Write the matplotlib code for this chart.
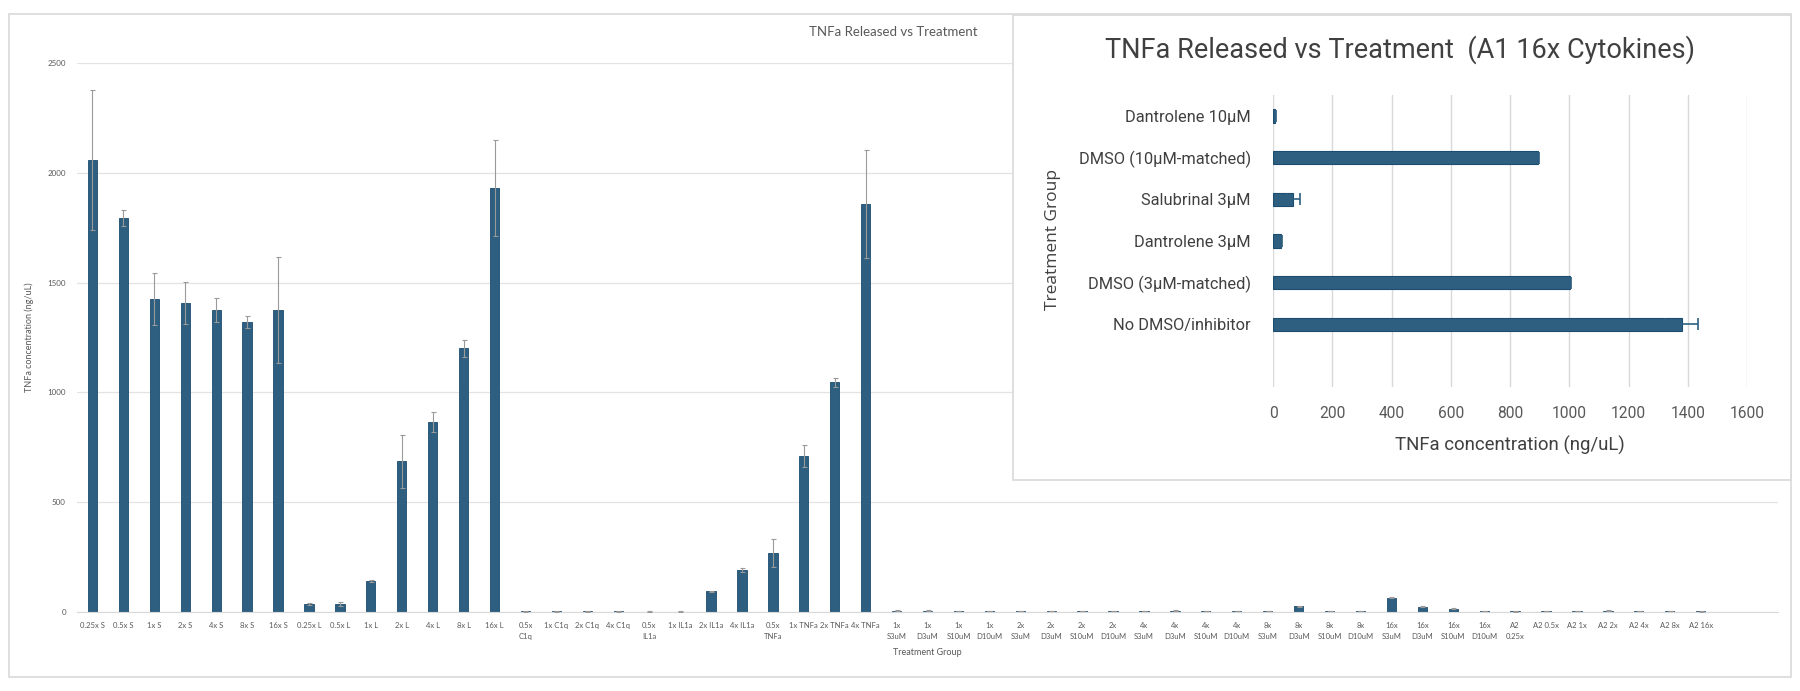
import matplotlib
matplotlib.use("Agg")
import matplotlib.pyplot as plt
from matplotlib.patches import Rectangle

# main chart data
groups = ["0.25x S", "0.5x S", "1x S", "2x S", "4x S", "8x S", "16x S",
          "0.25x L", "0.5x L", "1x L", "2x L", "4x L", "8x L", "16x L",
          "0.5x\nC1q", "1x C1q", "2x C1q", "4x C1q",
          "0.5x\nIL1a", "1x IL1a", "2x IL1a", "4x IL1a",
          "0.5x\nTNFa", "1x TNFa", "2x TNFa", "4x TNFa",
          "1x\nS3uM", "1x\nD3uM", "1x\nS10uM", "1x\nD10uM",
          "2x\nS3uM", "2x\nD3uM", "2x\nS10uM", "2x\nD10uM",
          "4x\nS3uM", "4x\nD3uM", "4x\nS10uM", "4x\nD10uM",
          "8x\nS3uM", "8x\nD3uM", "8x\nS10uM", "8x\nD10uM",
          "16x\nS3uM", "16x\nD3uM", "16x\nS10uM", "16x\nD10uM",
          "A2\n0.25x", "A2 0.5x", "A2 1x", "A2 2x", "A2 4x", "A2 8x", "A2 16x"]
tnfa = [2060, 1794, 1424, 1406, 1375, 1319, 1375,
        38, 36, 140, 686, 865, 1200, 1930,
        3, 3, 3, 3,
        2, 2, 94, 191,
        267, 709, 1046, 1859,
        6, 6, 4, 4,
        5, 4, 4, 4,
        5, 6, 4, 5,
        4, 26, 4, 4,
        65, 24, 15, 4,
        3, 4, 4, 6, 4, 5, 3]
tnfa_err = [319, 37, 118, 95, 56, 27, 243,
            5, 10, 4, 121, 44, 38, 220,
            1, 1, 1, 1,
            1, 1, 2, 8,
            64, 50, 20, 246,
            1, 1, 1, 1,
            1, 1, 1, 1,
            1, 1, 1, 1,
            1, 2, 1, 1,
            3, 2, 1, 1,
            1, 1, 1, 1, 1, 1, 1]

# inset data
inh_groups = ["No DMSO/inhibitor", "DMSO (3\u00b5M-matched)", "Dantrolene 3\u00b5M",
              "Salubrinal 3\u00b5M", "DMSO (10\u00b5M-matched)", "Dantrolene 10\u00b5M"]
inh_vals = [1379, 1003, 28, 68, 895, 8]
inh_err = [56, 3, 2, 22, 3, 1]

W, H = 1800, 691
bar_c = "#2e5f80"
edge_c = "#1c4d70"
txt = "#595959"
narrow = ["Roboto", "DejaVu Sans"]
small = ["Lato", "DejaVu Sans"]

fig = plt.figure(figsize=(W / 100, H / 100), dpi=100)
fig.patch.set_facecolor("white")


def box(x0, y0, x1, y1):
    return [x0 / W, 1 - y1 / H, (x1 - x0) / W, (y1 - y0) / H]


# outer chart border
fig.add_artist(Rectangle((9 / W, 1 - 677 / H), 1782 / W, 663 / H,
                         transform=fig.transFigure, fill=False,
                         ec="#d9d9d9", lw=1.2, zorder=0))

ax = fig.add_axes(box(77, 63, 1778, 612))
x = list(range(len(groups)))
ax.bar(x, tnfa, width=0.3, color=bar_c, edgecolor=edge_c, linewidth=0.6, zorder=2)
ax.errorbar(x, tnfa, yerr=tnfa_err, fmt="none", ecolor="#9a9a9a",
            elinewidth=0.8, capsize=1.8, capthick=0.8, zorder=3)
ax.set_xlim(-0.5, 54.5)
ax.set_ylim(0, 2500)
ax.set_yticks([0, 500, 1000, 1500, 2000, 2500])
ax.set_xticks(x)
ax.set_xticklabels(groups, fontsize=5.5, color=txt, family=small, linespacing=1.65)
ax.tick_params(axis="x", length=0, pad=7)
ax.tick_params(axis="y", length=0, pad=8, labelsize=5.8, labelcolor=txt)
for lab in ax.get_yticklabels():
    lab.set_family(small)
ax.grid(axis="y", color="#e3e3e3", lw=0.9, zorder=0)
for s in ["top", "right", "left"]:
    ax.spines[s].set_visible(False)
ax.spines["bottom"].set_color("#d9d9d9")
ax.set_xlabel("Treatment Group", fontsize=6.5, color=txt, family=small, labelpad=6)
ax.set_ylabel("TNFa concentration (ng/uL)", fontsize=6.5, color=txt, family=small, labelpad=10)
fig.text(893 / W, 1 - 32 / H, "TNFa Released vs Treatment", ha="center", va="center",
         fontsize=9.5, color=txt, family=small)

# inset chart panel
fig.add_artist(Rectangle((1013 / W, 1 - 480 / H), 778 / W, 465 / H,
                         transform=fig.transFigure, fc="white",
                         ec="#d9d9d9", lw=1.2, zorder=5))

ax2 = fig.add_axes(box(1273, 95, 1747, 387))
ax2.set_zorder(6)
ax2.patch.set_alpha(0)
y = list(range(len(inh_groups)))
ax2.barh(y, inh_vals, height=0.32, color=bar_c, edgecolor=edge_c, linewidth=0.8, zorder=2)
ax2.errorbar(inh_vals, y, xerr=inh_err, fmt="none", ecolor=bar_c,
             elinewidth=1.2, capsize=4, capthick=1.2, zorder=3)
ax2.set_xlim(0, 1600)
ax2.set_ylim(-1.5, 5.5)
ax2.set_xticks(range(0, 1601, 200))
ax2.set_yticks(y)
ax2.set_yticklabels(inh_groups, fontsize=11.8, color="#404040", family=narrow)
ax2.tick_params(axis="x", length=0, pad=14, labelsize=11.2, labelcolor="#595959")
for lab in ax2.get_xticklabels():
    lab.set_family(narrow)
ax2.tick_params(axis="y", length=0, pad=16)
ax2.grid(axis="x", color="#d9d9d9", lw=1, zorder=0)
for s in ax2.spines.values():
    s.set_visible(False)
ax2.set_xlabel("TNFa concentration (ng/uL)", fontsize=13.4, color="#404040",
               family=narrow, labelpad=10)
fig.text(1053 / W, 1 - 240 / H, "Treatment Group", rotation=90, ha="center", va="center",
         fontsize=12.5, color="#404040", family=["Open Sans", "DejaVu Sans"], zorder=7)
fig.text(1400 / W, 1 - 50 / H, "TNFa Released vs Treatment  (A1 16x Cytokines)",
         ha="center", va="center", fontsize=19.5, color="#404040", family=narrow, zorder=7)

fig.savefig("out.png", dpi=100, facecolor="white")
